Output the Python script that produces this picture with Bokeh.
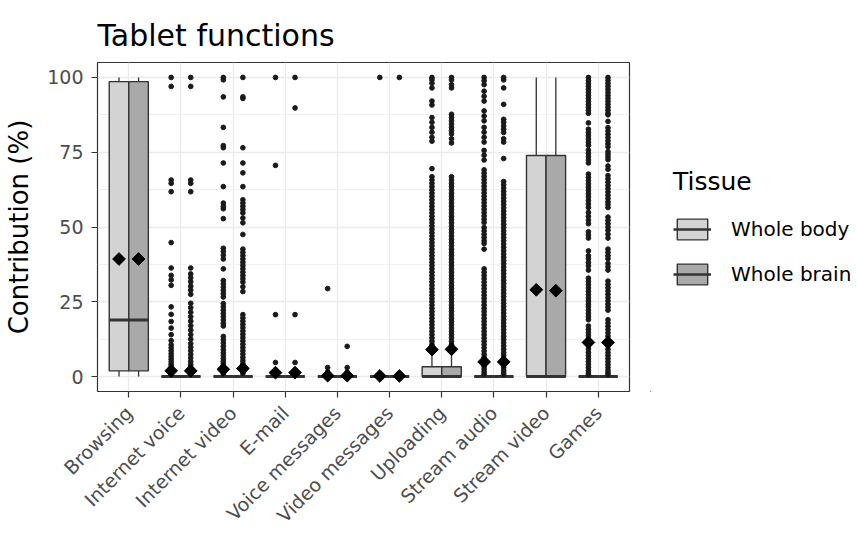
import numpy as np
from bokeh.plotting import figure
from bokeh.layouts import row
from bokeh.models import ColumnDataSource, FixedTicker, Legend, LegendItem, Range1d
from bokeh.embed import file_html
from bokeh.resources import INLINE

categories = ["Browsing", "Internet voice", "Internet video", "E-mail", "Voice messages",
              "Video messages", "Uploading", "Stream audio", "Stream video", "Games"]
tissues = ["Whole body", "Whole brain"]

# box statistics per category
body_q1 = [1.9, 0, 0, 0, 0, 0, 0, 0, 0, 0]
body_med = [18.9, 0, 0, 0, 0, 0, 0, 0, 0, 0]
body_q3 = [98.6, 0, 0, 0, 0, 0, 3.3, 0, 73.9, 0]
body_lo = [0, 0, 0, 0, 0, 0, 0, 0, 0, 0]
body_hi = [100, 0, 0, 0, 0, 0, 8.0, 0, 100, 0]
body_mean = [39.3, 1.9, 2.4, 1.3, 0.3, 0.2, 9.0, 4.9, 29.0, 11.4]

brain_q1 = [1.9, 0, 0, 0, 0, 0, 0, 0, 0, 0]
brain_med = [18.9, 0, 0, 0, 0, 0, 0, 0, 0, 0]
brain_q3 = [98.6, 0, 0, 0, 0, 0, 3.3, 0, 73.9, 0]
brain_lo = [0, 0, 0, 0, 0, 0, 0, 0, 0, 0]
brain_hi = [100, 0, 0, 0, 0, 0, 8.0, 0, 100, 0]
brain_mean = [39.3, 1.9, 2.7, 1.3, 0.3, 0.2, 9.1, 4.9, 28.7, 11.4]

body_outliers = [
    [],
    [100, 97, 65.7, 64.6, 61.8, 44.8, 36.3, 33.8, 32.3, 30.5, 23.3, 20.8, 18.4, 16.2, 14, 12,
     10.6, 9.6, 8.6, 7.6, 6.7, 5.8, 4.9, 4.1, 3.3, 2.6, 1.9, 1.3, 0.7],
    [100, 99.2, 93.5, 83.3, 77.2, 76.5, 71.4, 63.5, 58, 56.9, 56.1, 52.8, 42.9, 41.8, 40.6, 39.3,
     36, 32.1, 31, 29.9, 28.8, 27.7, 26.6, 24.4, 23.3, 22.2, 21.1, 20, 18.9, 17.8, 16.9, 13.4,
     12.3, 11.2, 10.1, 9, 8, 7, 6, 5.1, 4.3, 3.5, 2.8, 2.1, 1.5, 0.9],
    [100, 70.6, 20.7, 4.7, 2.2, 1],
    [29.4, 3, 1.5],
    [100],
    [100, 99.2, 98.1, 96.5, 92.1, 90.8, 86.6, 85, 83.3, 81.7, 80, 78.7, 69.5, 66.8, 65.7, 64.6,
     63.5, 62.4, 61.3, 60.2, 59.1, 58, 56.9, 55.8, 54.7, 53.6, 52.5, 51.4, 50.3, 49.2, 48.1, 47,
     45.9, 44.8, 43.7, 42.6, 41.5, 40.4, 39.3, 38.2, 37.1, 36, 34.9, 33.8, 32.7, 31.6, 30.5, 29.4,
     28.3, 27.2, 26.1, 25, 23.9, 22.8, 21.7, 20.6, 19.5, 18.4, 17.3, 16.2, 15.1, 14, 12.9, 11.8,
     10.7, 9.8, 9],
    [100, 98.9, 97.6, 95.4, 93.7, 92.1, 88.8, 87.1, 85.5, 83.3, 81.7, 80, 78.4, 75.6, 74, 72.4,
     69.1, 68, 66.9, 65.8, 64.7, 63.6, 62.5, 61.4, 60.3, 59.2, 58.1, 57, 55.9, 54.8, 53.7, 52.6,
     51.5, 49.8, 48.7, 47.6, 46.5, 45.4, 44.5, 42.6, 36, 34.9, 33.8, 32.7, 31.6, 30.5, 29.4, 28.3,
     27.2, 26.1, 25, 23.9, 22.8, 21.7, 20.6, 19.5, 18.4, 17.3, 16.2, 15.1, 14, 12.9, 11.8, 10.7,
     9.6, 8.5, 7.4, 6.4, 5.4, 4.4, 3.4, 2.5, 1.6, 0.8],
    [],
    [100, 99, 98, 97, 96, 95, 94, 93, 92, 91, 90, 89, 88, 84.8, 82.7, 81.6, 80.5, 79.4, 78.3,
     77.3, 75.7, 74.6, 73.5, 72.4, 71.4, 67.7, 66.6, 65.5, 64.4, 63.3, 62.2, 61.1, 60, 58.9, 57.7,
     56.5, 54.9, 53.6, 52.3, 51.1, 48.4, 47.3, 46.3, 42, 40.4, 39.4, 38.2, 37, 35.6, 32.9, 31.8,
     30.7, 29.6, 28.5, 27.4, 26.3, 25.2, 24.2, 23.3, 22.2, 21.1, 20, 19, 16.9, 15.8, 14.7, 13.6,
     12.5, 11.4, 10.3, 9.2, 8.1, 7, 6, 5, 4, 3, 2, 1.2, 0.6],
]

brain_outliers = [
    [],
    [100, 97, 65.7, 64.6, 61.8, 36.3, 34.3, 33, 31.7, 30.2, 28.9, 27.5, 24.5, 23, 21.5, 20, 18.5,
     17, 15.5, 14, 12.5, 11, 9.8, 8.6, 7.4, 6.2, 5, 4, 3, 2, 1.2],
    [100, 93.5, 93, 76.5, 71.4, 68.1, 63.5, 59.1, 58, 56.9, 55.8, 54.7, 53, 51.4, 47.5, 42.6, 41.5,
     40.4, 39.3, 38.2, 37.1, 36, 34.9, 33.8, 32.7, 31.6, 30, 28.4, 20.7, 19.6, 18.5, 17.4, 16.3,
     15.2, 14.1, 13, 11.9, 10.8, 9.7, 8.6, 7.5, 6.4, 5.3, 4.3, 3.4, 2.5, 1.7, 1],
    [100, 89.8, 20.7, 4.7, 2.2, 1],
    [10.1, 3, 1.5],
    [100],
    [100, 99.2, 97.6, 96.5, 87.7, 86.6, 85.5, 84.4, 83.3, 82.2, 81.1, 79.5, 78.1, 66.8, 65.7, 64.6,
     63.5, 62.4, 61.3, 60.2, 59.1, 58, 56.9, 55.8, 54.7, 53.6, 52.5, 51.4, 50.3, 49.2, 48.1, 47,
     45.9, 44.8, 43.7, 42.6, 41.5, 40.4, 39.3, 38.2, 37.1, 36, 34.9, 33.8, 32.7, 31.6, 30.5, 29.4,
     28.3, 27.2, 26.1, 25, 23.9, 22.8, 21.7, 20.6, 19.5, 18.4, 17.3, 16.2, 15.1, 14, 12.9, 11.8,
     10.7, 9.8, 9],
    [100, 99.2, 96.5, 91, 86, 85, 83.8, 82.7, 81.6, 79.5, 78.4, 72.9, 65.2, 64.1, 63, 61.9, 60.8,
     59.7, 58.6, 57.5, 56.4, 55.3, 54.2, 53.1, 52, 50.9, 49.8, 48.7, 47.6, 46.5, 45.4, 44.3, 43.2,
     42.1, 41, 39.9, 38.8, 37.7, 36.6, 35.5, 34.4, 33.3, 32.2, 31.1, 30, 28.9, 27.8, 26.7, 25.6,
     24.5, 23.4, 22.3, 21.2, 20.1, 19, 17.9, 16.8, 15.7, 14.6, 13.5, 12.4, 11.3, 10.2, 9.1, 8, 7,
     6, 5, 4, 3, 2, 1.2, 0.6],
    [],
    [100, 99, 98, 97, 96, 95, 94, 93, 92, 91, 90, 89, 88, 87.5, 85.3, 83.2, 82.1, 81, 79.9, 78.8,
     77.8, 76.8, 75.2, 74.3, 73.4, 72.5, 70.4, 69.3, 67.2, 66.1, 65, 63.9, 62.8, 61.7, 60.6, 59.5,
     58.4, 57.5, 56.5, 53.3, 52.2, 51.1, 50, 48.9, 47.6, 46.3, 42.6, 41.5, 40.4, 39.4, 37.8, 36.7,
     35.6, 31.9, 30.8, 29.7, 28.6, 27.5, 26.4, 25.3, 24.2, 23.2, 22.2, 19, 17.9, 16.8, 15.7, 14.6,
     13.5, 12.4, 11.3, 10.2, 9.1, 8, 7, 6, 5, 4, 3, 2, 1.2, 0.6],
]

fills = ["#D3D3D3", "#A9A9A9"]
FONT = "DejaVu Sans"
DODGE = 0.1875
BOX_W = 0.375

p = figure(width=650, height=537, output_backend="svg", toolbar_location=None,
           x_range=Range1d(0.4, 10.6), y_range=Range1d(-5, 105),
           min_border_left=97, min_border_right=21, min_border_top=62, min_border_bottom=143)

stats = [
    (body_q1, body_med, body_q3, body_lo, body_hi, body_mean, body_outliers),
    (brain_q1, brain_med, brain_q3, brain_lo, brain_hi, brain_mean, brain_outliers),
]

for t, (q1, med, q3, lo, hi, mean, outl) in enumerate(stats):
    off = -DODGE if t == 0 else DODGE
    xs = [i + 1 + off for i in range(len(categories))]
    src = ColumnDataSource(dict(x=xs, x0=[x - BOX_W / 2 for x in xs], x1=[x + BOX_W / 2 for x in xs],
                                q1=q1, med=med, q3=q3, lo=lo, hi=hi, mean=mean))
    p.segment(x0="x", y0="q3", x1="x", y1="hi", source=src, line_color="#333333", line_width=1.3)
    p.segment(x0="x", y0="q1", x1="x", y1="lo", source=src, line_color="#333333", line_width=1.3)
    p.vbar(x="x", width=BOX_W, bottom="q1", top="q3", source=src,
           fill_color=fills[t], line_color="#333333", line_width=1.4)
    p.segment(x0="x0", y0="med", x1="x1", y1="med", source=src, line_color="#333333", line_width=3)
    ox, oy = [], []
    for i, vals in enumerate(outl):
        for v in vals:
            ox.append(xs[i])
            oy.append(v)
    p.scatter(ox, oy, size=4.7, color="#1A1A1A")
    p.scatter(x="x", y="mean", source=src, marker="square", angle=np.pi / 4, size=9,
              color="black")

# axes
p.xaxis.ticker = FixedTicker(ticks=list(range(1, len(categories) + 1)))
p.xaxis.major_label_overrides = {i + 1: c for i, c in enumerate(categories)}
p.xaxis.major_label_orientation = np.pi / 4
p.yaxis.ticker = FixedTicker(ticks=[0, 25, 50, 75, 100], minor_ticks=[12.5, 37.5, 62.5, 87.5])
for ax in (p.xaxis, p.yaxis):
    ax.axis_line_color = None
    ax.major_tick_line_color = "#333333"
    ax.major_tick_line_width = 1.2
    ax.major_tick_out = 6
    ax.major_tick_in = 0
    ax.minor_tick_line_color = None
    ax.major_label_text_font = FONT
    ax.major_label_text_font_size = "19px"
    ax.major_label_text_color = "#4D4D4D"
p.yaxis.major_label_standoff = 8
p.xaxis.major_label_standoff = 12
p.yaxis.axis_label = "Contribution (%)"
p.yaxis.axis_label_text_font = FONT
p.yaxis.axis_label_text_font_size = "26px"
p.yaxis.axis_label_text_font_style = "normal"
p.yaxis.axis_label_text_color = "black"
p.yaxis.axis_label_standoff = 10

p.xgrid.ticker = FixedTicker(ticks=list(range(1, len(categories) + 1)))
p.xgrid.grid_line_color = "#EBEBEB"
p.xgrid.grid_line_width = 1.3
p.ygrid.grid_line_color = "#EBEBEB"
p.ygrid.grid_line_width = 1.3
p.ygrid.minor_grid_line_color = "#EBEBEB"
p.ygrid.minor_grid_line_width = 0.7

p.outline_line_color = "#333333"
p.outline_line_width = 1.2
p.background_fill_color = "white"
p.border_fill_color = "white"

p.title.text = "Tablet functions"
p.title.text_font = FONT
p.title.text_font_size = "30px"
p.title.text_font_style = "normal"
p.title.text_color = "black"
p.title.align = "left"
p.title.standoff = 20

# legend panel: key glyphs sit far outside the visible range, only their legend keys show
lg = figure(width=207, height=537, output_backend="svg", toolbar_location=None,
            x_range=Range1d(0, 1), y_range=Range1d(0, 1), x_axis_type=None, y_axis_type=None,
            min_border_left=0, min_border_right=0, min_border_top=62, min_border_bottom=143)
lg.outline_line_color = None
lg.background_fill_color = "white"
lg.border_fill_color = "white"
items = []
for t, name in enumerate(tissues):
    key = ColumnDataSource(dict(x=[-100], y0=[-100], y1=[-99], x0=[-100], x1=[-99], ym=[-100]))
    kb = lg.vbar(x="x", width=0.1, bottom="y0", top="y1", source=key,
                 fill_color=fills[t], line_color="#333333", line_width=1.4)
    km = lg.segment(x0="x0", y0="ym", x1="x1", y1="ym", source=key,
                    line_color="#333333", line_width=2.5)
    items.append(LegendItem(label=name, renderers=[kb, km]))

legend = Legend(items=items, title="Tissue", location="center_left")
legend.title_text_font = FONT
legend.title_text_font_size = "25px"
legend.title_text_font_style = "normal"
legend.title_text_color = "black"
legend.title_standoff = 20
legend.label_text_font = FONT
legend.label_text_font_size = "20px"
legend.label_text_color = "black"
legend.glyph_width = 38
legend.glyph_height = 26
legend.label_standoff = 20
legend.spacing = 19
legend.padding = 0
legend.margin = 23
legend.border_line_color = None
legend.background_fill_alpha = 0
lg.add_layout(legend)

layout = row(p, lg)
open("out.html", "w").write(file_html(layout, INLINE))
